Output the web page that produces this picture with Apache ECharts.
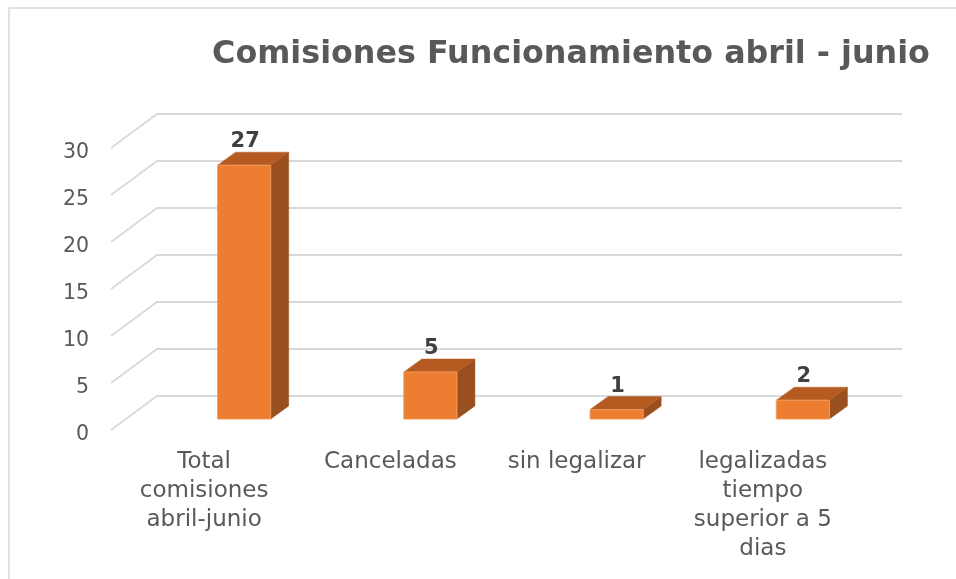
<!DOCTYPE html>
<html>
<head>
<meta charset="utf-8">
<script src="https://cdn.jsdelivr.net/npm/echarts@6/dist/echarts.min.js"></script>
<style>
html,body{margin:0;padding:0;background:#fff;}
#main{width:956px;height:579px;}
</style>
</head>
<body>
<div id="main"></div>
<script>
const titleText = 'Comisiones Funcionamiento abril - junio';
const categories = ['Total comisiones abril-junio', 'Canceladas', 'sin legalizar', 'legalizadas tiempo superior a 5 dias'];
const tickLabels = ['Total\ncomisiones\nabril-junio', 'Canceladas', 'sin legalizar', 'legalizadas\ntiempo\nsuperior a 5\ndias'];
const values = [27, 5, 1, 2];
const yTicks = [0, 5, 10, 15, 20, 25, 30];

// fit title width
const FONT = 'DejaVu Sans';
const cv = document.createElement('canvas').getContext('2d');
cv.font = 'bold 100px "' + FONT + '"';
const titleSize = Math.min(36, 100 * 718 / cv.measureText(titleText).width);

const chart = echarts.init(document.getElementById('main'), null, {renderer: 'canvas'});

const DEPTH_X = 46, DEPTH_Y = -34;   // floor depth of the gridlines
const BAR_OFF_X = 40, BAR_OFF_Y = -11; // bar placement inside depth
const BAR_DX = 18, BAR_DY = -13;     // bar thickness

chart.setOption({
  animation: false,
  backgroundColor: '#ffffff',
  graphic: [
    {type: 'rect', shape: {x: 9, y: 8, width: 1200, height: 1200}, style: {fill: 'none', stroke: '#d9d9d9', lineWidth: 1.5}, z: 0},
    {type: 'text', x: 571, y: 55, style: {text: titleText, font: 'bold ' + titleSize + 'px "' + FONT + '"', fill: '#595959', textAlign: 'center', textVerticalAlign: 'middle'}, z: 10}
  ],
  grid: {left: 111, right: 100, top: 148, bottom: 149},
  xAxis: {
    type: 'category',
    data: categories,
    axisLine: {show: false},
    axisTick: {show: false},
    axisLabel: {
      margin: 18,
      interval: 0,
      formatter: (v, i) => tickLabels[i],
      fontFamily: FONT,
      fontSize: 23,
      lineHeight: 29,
      color: '#595959',
      align: 'center'
    }
  },
  yAxis: {
    type: 'value',
    min: 0, max: 30, interval: 5,
    axisLine: {show: false},
    axisTick: {show: false},
    splitLine: {show: false},
    axisLabel: {margin: 22, fontFamily: FONT, fontSize: 20.5, color: '#595959', verticalAlign: 'top', lineHeight: 9}
  },
  series: [
    {
      type: 'custom',
      z: 1,
      silent: true,
      data: yTicks.map(v => [0, v]),
      renderItem: function (params, api) {
        const cs = params.coordSys;
        const y = api.coord([0, api.value(1)])[1];
        return {
          type: 'polyline',
          shape: {points: [[cs.x, y], [cs.x + DEPTH_X, y + DEPTH_Y], [cs.x + cs.width + DEPTH_X, y + DEPTH_Y]]},
          style: {stroke: '#d9d9d9', lineWidth: 1.8, fill: 'none'}
        };
      }
    },
    {
      type: 'custom',
      z: 5,
      data: values.map((v, i) => [i, v]),
      renderItem: function (params, api) {
        const idx = api.value(0), v = api.value(1);
        const top = api.coord([idx, v]);
        const base = api.coord([idx, 0]);
        const band = api.size([1, 0])[0];
        const w = band * 0.285;
        const cx = top[0] + BAR_OFF_X;
        const L = cx - w / 2, R = cx + w / 2;
        const T = top[1] + BAR_OFF_Y, B = base[1] + BAR_OFF_Y;
        return {
          type: 'group',
          children: [
            {type: 'polygon', shape: {points: [[R, T], [R + BAR_DX, T + BAR_DY], [R + BAR_DX, B + BAR_DY], [R, B]]}, style: {fill: '#9a501e', stroke: '#9a501e', lineWidth: 0.5}},
            {type: 'polygon', shape: {points: [[L, T], [L + BAR_DX, T + BAR_DY], [R + BAR_DX, T + BAR_DY], [R, T]]}, style: {fill: '#b55b22', stroke: '#b55b22', lineWidth: 0.5}},
            {type: 'rect', shape: {x: L, y: T, width: w, height: B - T}, style: {fill: '#ed7d31', stroke: '#f29a5c', lineWidth: 1}},
            {type: 'text', x: cx + 1, y: T - 23.5, style: {text: String(v), font: 'bold 21px "' + FONT + '"', fill: '#404040', textAlign: 'center', textVerticalAlign: 'middle'}}
          ]
        };
      }
    }
  ]
});
</script>
</body>
</html>
